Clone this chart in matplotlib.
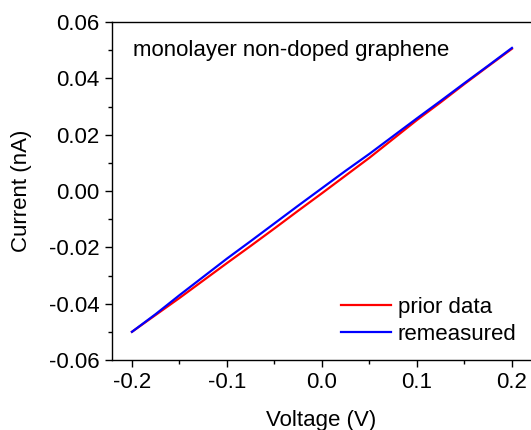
import matplotlib
matplotlib.use("Agg")
import matplotlib.pyplot as plt
from matplotlib.ticker import MultipleLocator

plt.rcParams["font.family"] = ["Liberation Sans", "DejaVu Sans"]

# Voltage sweep (V)
voltage = [-0.2, -0.175, -0.15, -0.125, -0.1, -0.075, -0.05, -0.025, 0.0,
           0.025, 0.05, 0.075, 0.1, 0.125, 0.15, 0.175, 0.2]

# Current (nA)
prior_data = [-0.0500, -0.0440, -0.0380, -0.0318, -0.0256, -0.0195, -0.0133,
              -0.0070, -0.0008, 0.0055, 0.0118, 0.0185, 0.0252, 0.0315,
              0.0380, 0.0443, 0.0505]
remeasured = [-0.0500, -0.0437, -0.0370, -0.0305, -0.0240, -0.0178, -0.0115,
              -0.0052, 0.0010, 0.0072, 0.0132, 0.0195, 0.0258, 0.0320,
              0.0383, 0.0445, 0.0508]


def main():
    fig = plt.figure(figsize=(5.31, 4.30), dpi=100)
    ax = fig.add_axes([0.2109, 0.1628, 0.789, 0.786])

    ax.plot(voltage, prior_data, color="#ff0000", lw=1.6, label="prior data")
    ax.plot(voltage, remeasured, color="#0000ff", lw=1.6, label="remeasured")

    ax.set_xlim(-0.221, 0.22)
    ax.set_ylim(-0.06, 0.06)
    ax.xaxis.set_major_locator(MultipleLocator(0.1))
    ax.xaxis.set_minor_locator(MultipleLocator(0.05))
    ax.yaxis.set_major_locator(MultipleLocator(0.02))
    ax.yaxis.set_minor_locator(MultipleLocator(0.01))
    ax.xaxis.set_major_formatter(plt.FuncFormatter(lambda v, p: f"{v:.1f}"))
    ax.yaxis.set_major_formatter(plt.FuncFormatter(lambda v, p: f"{v:.2f}"))

    ax.tick_params(which="major", direction="out", length=5, width=1,
                   labelsize=16, top=False, right=False, pad=4)
    ax.tick_params(which="minor", direction="out", length=3, width=1,
                   top=False, right=False)
    ax.spines["right"].set_visible(False)
    for s in ["left", "bottom", "top"]:
        ax.spines[s].set_linewidth(1)

    ax.set_xlabel("Voltage (V)", fontsize=16, labelpad=12)
    ax.set_ylabel("Current (nA)", fontsize=16, labelpad=12)

    ax.text(0.05, 0.915, "monolayer non-doped graphene", transform=ax.transAxes,
            fontsize=16, va="center", ha="left")

    ax.legend(loc="lower right", bbox_to_anchor=(0.965, 0.045), frameon=False,
              fontsize=16, handlelength=2.25, handletextpad=0.3,
              labelspacing=0.25, borderaxespad=0, borderpad=0)

    fig.savefig("out.png", dpi=100)
    plt.close(fig)


if __name__ == "__main__":
    main()
